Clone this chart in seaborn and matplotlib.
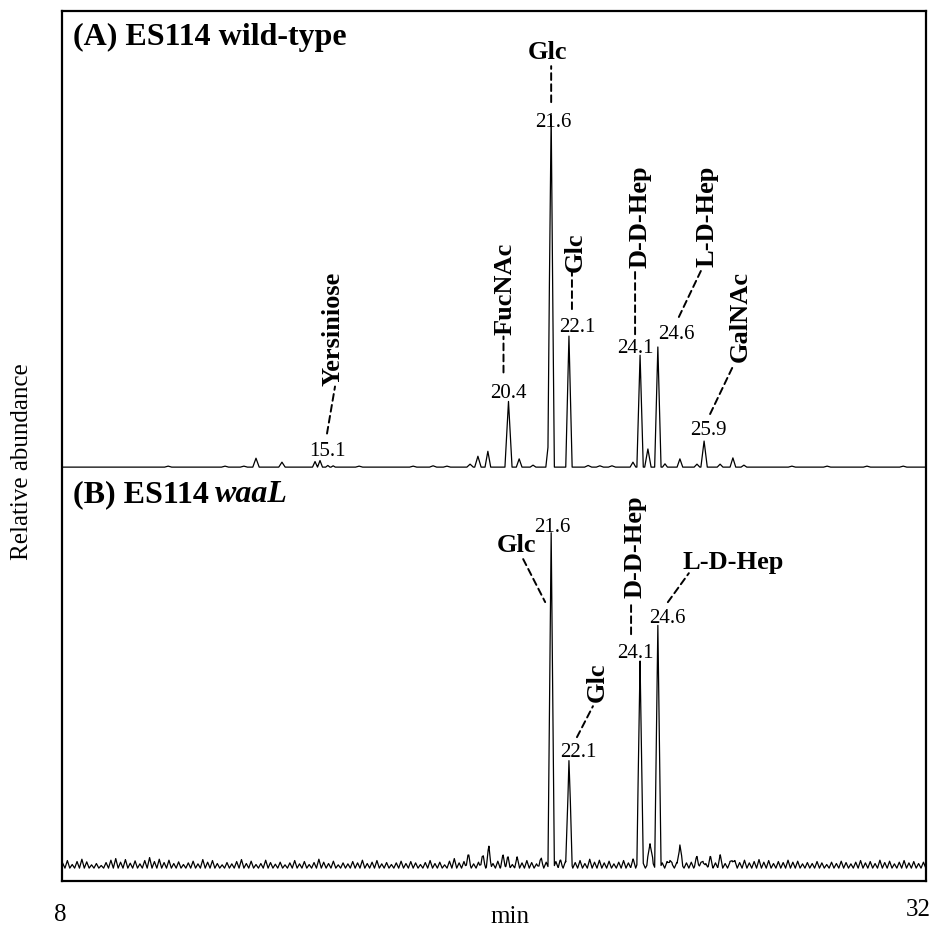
import numpy as np
import pandas as pd
import matplotlib
matplotlib.use("Agg")
import matplotlib.pyplot as plt
from matplotlib.transforms import offset_copy
import seaborn as sns

# (A) ES114 wild-type: peak apex (min), height (% of 21.6 min peak), half width at base (min)
wt_rt = [10.83, 12.43, 12.96, 13.30, 14.03, 14.96, 15.10, 15.32, 15.47, 16.20,
         17.72, 18.28, 18.67, 19.32, 19.54, 19.82, 20.40, 20.70, 21.09, 21.55,
         21.60, 22.10, 22.64, 22.97, 23.31, 23.90, 24.10, 24.32, 24.60, 24.80,
         25.22, 25.70, 25.90, 26.35, 26.71, 27.02, 28.37, 29.36, 30.48, 31.50]
wt_height = [0.3, 0.3, 0.3, 2.7, 1.5, 1.7, 2.0, 0.5, 0.4, 0.3,
             0.3, 0.4, 0.3, 0.9, 3.3, 4.8, 19.9, 2.5, 0.6, 10.0,
             101.5, 39.7, 0.5, 0.4, 0.4, 1.5, 33.9, 5.5, 36.4, 1.0,
             2.5, 0.9, 7.9, 0.9, 2.8, 0.6, 0.3, 0.3, 0.3, 0.3]
wt_halfwidth = [0.1, 0.1, 0.1, 0.09, 0.09, 0.07, 0.07, 0.06, 0.06, 0.1,
                0.1, 0.1, 0.1, 0.09, 0.09, 0.08, 0.1, 0.08, 0.08, 0.1,
                0.09, 0.09, 0.1, 0.1, 0.1, 0.08, 0.09, 0.09, 0.09, 0.07,
                0.08, 0.08, 0.09, 0.08, 0.08, 0.08, 0.1, 0.1, 0.1, 0.1]

# (B) ES114 waaL
mut_rt = [19.26, 19.66, 19.85, 20.25, 20.39, 20.64, 21.29, 21.60, 21.85, 22.10,
          23.90, 24.10, 24.38, 24.60, 24.94, 25.22, 25.70, 25.87, 26.07, 26.35, 26.69]
mut_height = [2.4, 2.1, 5.5, 2.7, 2.1, 1.5, 1.2, 100.3, 1.2, 31.5,
              1.5, 62.4, 7.3, 72.4, 2.1, 6.7, 2.7, 1.8, 2.1, 2.1, 2.1]
mut_halfwidth = [0.07, 0.07, 0.07, 0.07, 0.06, 0.07, 0.07, 0.09, 0.06, 0.09,
                 0.07, 0.09, 0.09, 0.09, 0.07, 0.08, 0.07, 0.06, 0.07, 0.07, 0.07]

# baseline noise of the waaL run: tip heights, one every NOISE_STEP min from NOISE_T0
NOISE_T0, NOISE_STEP = 7.86, 0.136
mut_noise = [
    1.6, 2.3, 1.1, 2.0, 2.7, 1.9, 1.0, 1.4, 0.8, 1.7, 2.4, 2.9, 1.8, 2.6, 1.5,
    2.2, 1.3, 2.3, 3.2, 2.0, 2.7, 1.7, 2.4, 1.4, 1.9, 1.1, 1.6, 2.1, 1.3, 2.6,
    1.8, 2.3, 1.4, 1.0, 1.7, 1.3, 2.0, 2.6, 1.4, 2.1, 1.1, 1.4, 2.4, 1.7, 1.2,
    1.8, 1.0, 1.6, 2.3, 1.3, 2.0, 1.1, 1.7, 2.7, 1.8, 1.4, 2.1, 1.0, 1.6, 1.3,
    2.0, 1.6, 2.4, 1.4, 1.8, 2.3, 1.3, 1.7, 1.1, 1.6, 2.1, 1.4, 2.0, 1.6, 1.1,
    1.7, 2.3, 1.4, 1.8, 1.0, 2.1, 2.9, 1.6, 2.0, 2.4, 1.3, 1.8, 2.6, 1.7, 1.4,
    2.1, 1.6, 1.8, 1.1, 2.0, 1.6, 2.3, 1.7, 1.3, 2.4, 1.8, 1.4, 2.0, 1.6, 2.1,
    2.6, 1.7, 2.3, 1.4, 2.7, 1.8, 2.4, 1.6, 2.1, 1.3, 1.8, 2.3, 1.6, 1.4, 2.0,
    1.7, 1.3, 1.8, 1.4, 1.6, 2.0, 1.3, 1.7, 1.1, 1.6, 1.8, 1.3, 1.7, 1.4, 1.8,
    1.6, 2.1, 1.4, 1.8, 2.3, 1.7, 2.4, 1.6, 2.0, 2.6, 1.8, 2.3, 1.4, 2.0, 1.7,
    2.4, 1.8, 2.1, 1.3, 1.7, 1.4, 2.0, 1.6, 1.1, 1.8, 1.4, 2.1, 1.7, 1.3, 1.8,
    2.3, 1.6, 2.0, 1.4, 2.4, 1.7, 2.1, 1.3, 1.8, 2.3, 1.6, 2.0, 1.4, 1.8, 2.1,
]

XLIM = (7.845, 32.14)
YLIM = (-3.9, 259.7)
WT_OFFSET = 121.5

# label layout: rt, name, rotation, number offset, leader start, leader end,
# name offset, (ha, va) -- offsets in pixels from the peak apex
wt_labels = [
    (15.1, "Yersiniose", 90, (7, 10), (7, 27), (15, 74), (13, 76), ("center", "bottom")),
    (20.4, "FucNAc", 90, (0, 9), (-5, 29), (-5, 65), (-3, 67), ("center", "bottom")),
    (21.6, "Glc", 0, (2, 11), (0, 30), (0, 66), (-4, 81), ("center", "center")),
    (22.1, "Glc", 90, (8, 10), (3, 27), (3, 64), (6, 65), ("center", "bottom")),
    (24.1, "D-D-Hep", 90, (-5, 8), (-5, 21), (-5, 86), (0, 88), ("center", "bottom")),
    (24.6, "L-D-Hep", 90, (19, 13), (21, 30), (43, 76), (49, 81), ("center", "bottom")),
    (25.9, "GalNAc", 90, (4, 12), (6, 27), (29, 75), (36, 80), ("center", "bottom")),
]
mut_labels = [
    (21.6, "Glc", 0, (1, 11), (-28, -22), (-6, -65), (-35, -7), ("center", "center")),
    (22.1, "Glc", 90, (9, 13), (8, 27), (24, 58), (28, 63), ("center", "bottom")),
    (24.1, "D-D-Hep", 90, (-5, 10), (-9, 28), (-9, 61), (-5, 65), ("center", "bottom")),
    (24.6, "L-D-Hep", 0, (10, 12), (10, 27), (31, 56), (25, 68), ("left", "center")),
]


def build_trace(rt, height, halfwidth, noise=None):
    rt, height, halfwidth = map(np.asarray, (rt, height, halfwidth))
    knots = [rt - halfwidth, rt, rt + halfwidth, np.array(XLIM)]
    if noise is not None:
        tips = NOISE_T0 + NOISE_STEP * np.arange(len(noise))
        noise_t = np.sort(np.concatenate([tips, tips + NOISE_STEP / 2]))
        noise_v = np.zeros_like(noise_t)
        noise_v[::2] = noise
        knots.append(noise_t)
    t = np.unique(np.concatenate(knots))
    signal = np.zeros_like(t)
    for r, h, w in zip(rt, height, halfwidth):
        signal += np.interp(t, [r - w, r, r + w], [0, h, 0])
    if noise is not None:
        signal += np.interp(t, noise_t, noise_v)
    return pd.DataFrame({"time": t, "signal": signal})


def label_peaks(ax, rts, heights, base, specs):
    for rt, name, rot, num_off, start, end, name_off, (ha, va) in specs:
        y = base + heights[int(np.argmin(np.abs(np.asarray(rts) - rt)))]
        ax.annotate(f"{rt:.1f}", xy=(rt, y), xytext=num_off, textcoords="offset pixels",
                    ha="center", va="center", fontsize=15)
        ax.annotate("", xy=(rt, y),
                    xycoords=offset_copy(ax.transData, fig=ax.figure, x=end[0], y=end[1], units="dots"),
                    xytext=(rt, y),
                    textcoords=offset_copy(ax.transData, fig=ax.figure, x=start[0], y=start[1], units="dots"),
                    arrowprops=dict(arrowstyle="-", lw=1.4, linestyle=(0, (3.5, 2.2)),
                                    color="black", shrinkA=0, shrinkB=0))
        ax.annotate(name, xy=(rt, y), xytext=name_off, textcoords="offset pixels",
                    ha=ha, va=va, rotation=rot, fontsize=19, fontweight="bold")


sns.set_style("white")
plt.rcParams["font.family"] = ["Liberation Serif", "DejaVu Serif"]
plt.rcParams["text.color"] = "black"

wt = build_trace(wt_rt, wt_height, wt_halfwidth)
wt["signal"] += WT_OFFSET
mut = build_trace(mut_rt, mut_height, mut_halfwidth, mut_noise)

fig = plt.figure(figsize=(9.34, 9.28), dpi=100)
ax = fig.add_axes([62 / 934, 46 / 928, 864 / 934, 870 / 928])

sns.lineplot(data=wt, x="time", y="signal", color="black", lw=0.9,
             estimator=None, sort=True, ax=ax)
sns.lineplot(data=mut, x="time", y="signal", color="black", lw=0.9,
             estimator=None, sort=True, ax=ax)

ax.set_xlim(*XLIM)
ax.set_ylim(*YLIM)
ax.set_xticks([])
ax.set_yticks([])
ax.set_xlabel("")
ax.set_ylabel("")
for sp in ax.spines.values():
    sp.set_visible(True)
    sp.set_linewidth(1.6)
    sp.set_color("black")

label_peaks(ax, wt_rt, wt_height, WT_OFFSET, wt_labels)
label_peaks(ax, mut_rt, mut_height, 0, mut_labels)

ax.text(0.0127, 0.971, "(A) ES114 wild-type", transform=ax.transAxes,
        fontsize=23, fontweight="bold", ha="left", va="center")
b_txt = ax.text(0.0127, 0.445, "(B) ES114", transform=ax.transAxes,
                fontsize=23, fontweight="bold", ha="left", va="center")
ax.annotate("waaL", xy=(1, 0), xycoords=b_txt, xytext=(6, 0), textcoords="offset pixels",
            ha="left", va="bottom", fontsize=23, fontweight="bold", style="italic")

ax.text(-0.0023, -0.038, "8", transform=ax.transAxes, fontsize=18, ha="center", va="center")
ax.text(0.991, -0.032, "32", transform=ax.transAxes, fontsize=18, ha="center", va="center")
ax.text(0.519, -0.040, "min", transform=ax.transAxes, fontsize=18, ha="center", va="center")
fig.text(22 / 934, 1 - 462 / 928, "Relative abundance", rotation=90,
         fontsize=18, ha="center", va="center")

fig.savefig("out.png", dpi=100)
